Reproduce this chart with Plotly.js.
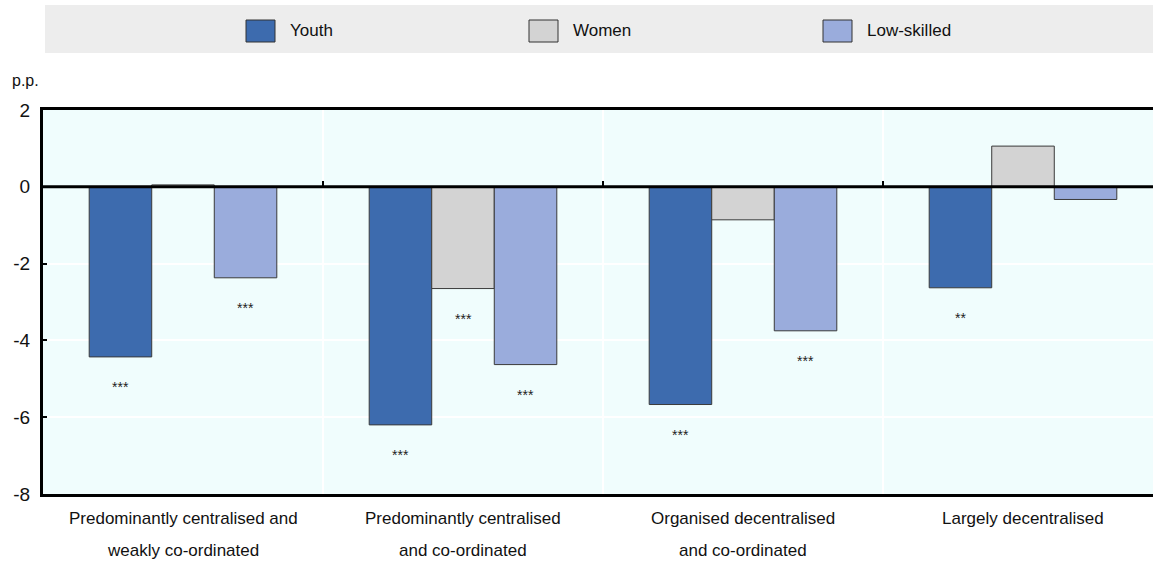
<!DOCTYPE html>
<html>
<head>
<meta charset="utf-8">
<script src="https://cdn.plot.ly/plotly-3.0.1.min.js"></script>
<style>html,body{margin:0;padding:0;background:#fff;}#chart{width:1153px;height:564px;}</style>
</head>
<body>
<div id="chart"></div>
<script>
// ---- data ----
const categories = [
  "Predominantly centralised and<br>weakly co-ordinated",
  "Predominantly centralised<br>and co-ordinated",
  "Organised decentralised<br>and co-ordinated",
  "Largely decentralised"
];
const seriesNames = ["Youth", "Women", "Low-skilled"];
const youth = [-4.43, -6.2, -5.67, -2.63];
const women = [0.05, -2.65, -0.86, 1.06];
const lowSkilled = [-2.37, -4.63, -3.75, -0.33];
const youthSig = ["***", "***", "***", "**"];
const womenSig = ["", "***", "", ""];
const lowSkilledSig = ["***", "***", "***", ""];
const yTicks = [-8, -6, -4, -2, 0, 2];
const yUnit = "p.p.";

// ---- styling ----
const colors = ["#3D6BAE", "#D3D3D3", "#9AACDC"];
const FONT = '"Liberation Sans Narrow", "Arial Narrow", "Liberation Sans", Arial, sans-serif';
const L = 43, R = 1153, T = 110, B = 494;
const px = x => (x - L) / (R - L);
const py = y => (B - y) / (B - T);

const values = [youth, women, lowSkilled];
const sigs = [youthSig, womenSig, lowSkilledSig];

const traces = values.map((v, i) => ({
  type: "bar",
  name: seriesNames[i],
  x: categories,
  y: v,
  marker: {color: colors[i], line: {color: "#3a3a3a", width: 1}},
  showlegend: false,
  hoverinfo: "x+y+name"
}));

const annotations = [];
const barPx = 62.5;
sigs.forEach((s, i) => {
  s.forEach((t, j) => {
    if (!t) return;
    annotations.push({
      x: categories[j], y: values[i][j], xref: "x", yref: "y",
      text: t, showarrow: false, xshift: (i - 1) * barPx, yshift: -30,
      yanchor: "middle", xanchor: "center",
      font: {family: FONT, size: 14, color: "#222"}
    });
  });
});

// category labels (two lines, wide spacing)
categories.forEach((c, j) => {
  c.split("<br>").forEach((line, k) => {
    annotations.push({
      x: c, xref: "x", y: 0, yref: "paper", yshift: -24 - 32 * k,
      text: line, showarrow: false, yanchor: "middle", xanchor: "center",
      font: {family: FONT, size: 17, color: "#111"}
    });
  });
});

// unit label
annotations.push({
  x: px(25), y: py(80), xref: "paper", yref: "paper", text: yUnit,
  showarrow: false, xanchor: "center", yanchor: "middle",
  font: {family: FONT, size: 16, color: "#111"}
});

// manual legend
const shapes = [{
  type: "rect", xref: "paper", yref: "paper",
  x0: px(45), x1: px(1153), y0: py(53), y1: py(5),
  fillcolor: "#EDEDED", line: {width: 0}, layer: "below"
}];
const legendSwatchX = [246, 529, 823];
seriesNames.forEach((n, i) => {
  shapes.push({
    type: "rect", xref: "paper", yref: "paper",
    x0: px(legendSwatchX[i]), x1: px(legendSwatchX[i] + 29),
    y0: py(42), y1: py(20),
    fillcolor: colors[i], line: {color: "#333", width: 1}
  });
  annotations.push({
    x: px(legendSwatchX[i] + 42), y: py(31), xref: "paper", yref: "paper",
    text: n, showarrow: false, xanchor: "left", yanchor: "middle",
    font: {family: FONT, size: 17, color: "#111"}
  });
});

// zero line above bars
shapes.push({
  type: "line", xref: "paper", yref: "y", x0: 0, x1: 1, y0: 0, y1: 0,
  line: {color: "#000", width: 3}, layer: "above"
});
// small ticks on zero line at category boundaries
for (let j = 1; j < categories.length; j++) {
  shapes.push({
    type: "line", xref: "x", yref: "y", x0: j - 0.5, x1: j - 0.5,
    y0: 0, y1: 0.15, line: {color: "#000", width: 2}, layer: "above"
  });
}

const layout = {
  width: 1153, height: 564,
  margin: {l: L, r: 1153 - R, t: T, b: 564 - B, pad: 0},
  paper_bgcolor: "#ffffff",
  plot_bgcolor: "#F0FDFD",
  barmode: "group",
  bargap: 0.33,
  bargroupgap: 0,
  showlegend: false,
  font: {family: FONT, size: 17, color: "#111"},
  xaxis: {
    type: "category",
    range: [-0.5, categories.length - 0.5 - 10 / 280],
    showticklabels: false,
    ticks: "",
    tickson: "boundaries",
    showgrid: true, gridcolor: "#ffffff", gridwidth: 2,
    showline: true, linecolor: "#000", linewidth: 3, mirror: true,
    zeroline: false, fixedrange: true
  },
  yaxis: {
    range: [-8, 2],
    tickvals: yTicks,
    ticktext: yTicks.map(String),
    ticks: "inside", ticklen: 4, tickwidth: 2, tickcolor: "#000",
    ticklabelstandoff: 6,
    tickfont: {family: FONT, size: 19, color: "#111"},
    showgrid: true, gridcolor: "#ffffff", gridwidth: 2,
    showline: true, linecolor: "#000", linewidth: 3,
    zeroline: false, fixedrange: true
  },
  shapes: shapes,
  annotations: annotations
};

Plotly.newPlot("chart", traces, layout, {displayModeBar: false, staticPlot: true});
</script>
</body>
</html>
